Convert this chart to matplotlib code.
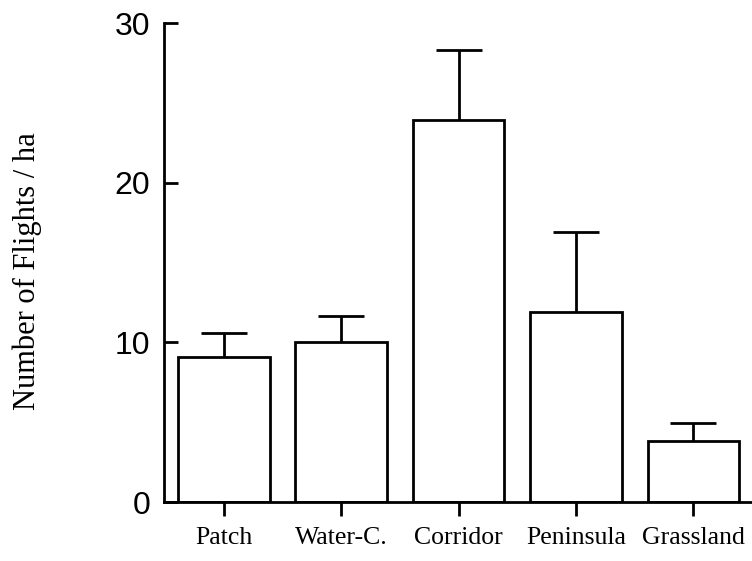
import numpy as np
import matplotlib
matplotlib.use("Agg")
import matplotlib.pyplot as plt

# Werte
categories = ["Patch", "Water-C.", "Corridor", "Peninsula", "Grassland"]
means = [9.1, 10.0, 23.9, 11.9, 3.8]
upper = [10.6, 11.65, 28.3, 16.9, 4.95]   # oberes Ende der Fehlerbalken
y_ticks = [0, 10, 20, 30]

fig = plt.figure(figsize=(7.52, 5.61), dpi=100)
ax = fig.add_axes([0.218, 0.105, 0.782, 0.854])

x = np.arange(len(categories))
err = np.array(upper) - np.array(means)

ax.bar(x, means, width=0.78, color="white", edgecolor="black", linewidth=2.0, zorder=2)
_, caps, _ = ax.errorbar(x, means, yerr=[np.zeros_like(err), err], fmt="none",
                         ecolor="black", elinewidth=2.0, capsize=16.5, capthick=2.0,
                         zorder=3)
# nur die obere Kappe zeigen
caps[0].set_visible(False)

ax.set_xlim(-0.51, 4.5)
ax.set_ylim(0, 30)
ax.set_xticks(x)
ax.set_xticklabels(categories, family="Liberation Serif", fontsize=18.5)
ax.set_yticks(y_ticks)
ax.set_yticklabels([str(t) for t in y_ticks], family="Liberation Sans", fontsize=23)

# Achsen im Stil der Vorlage
for s in ["top", "right"]:
    ax.spines[s].set_visible(False)
ax.spines["left"].set_linewidth(2.0)
ax.spines["bottom"].set_linewidth(2.0)
ax.tick_params(axis="y", direction="in", length=10, width=2.0, pad=10)
ax.tick_params(axis="x", direction="out", length=10, width=2.0, pad=8)

ax.set_ylabel("Number of Flights / ha", family="Liberation Serif", fontsize=22)
ax.yaxis.set_label_coords(-0.207, 0.482)

fig.savefig("out.png", dpi=100)
